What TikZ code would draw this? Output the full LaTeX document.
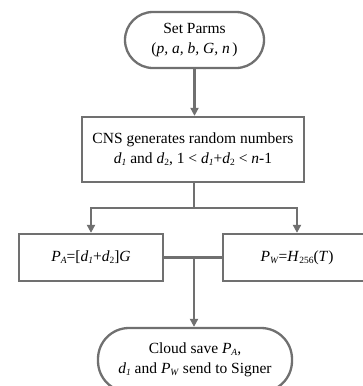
\documentclass[tikz,border=0pt]{standalone}
\usepackage{fontspec}
\setmainfont{Liberation Serif}
\usetikzlibrary{arrows.meta}
\definecolor{linegray}{RGB}{112,112,112}
\newcommand\lsub[1]{\raisebox{-0.3ex}{\fontsize{9.5}{10}\selectfont #1}}
\tikzset{
  flowline/.style={draw=linegray, line width=2.3pt},
  arr/.style={flowline, -{Triangle[length=8pt,width=8pt]}},
  procbox/.style={flowline, rectangle, inner sep=0pt, align=center,
    font=\fontsize{15.5}{20}\selectfont},
  termbox/.style={procbox, rounded corners=28pt},
}
\begin{document}
\begin{tikzpicture}[x=1pt,y=-1pt]
\useasboundingbox (0,0) rectangle (363,386);
\clip (0,0) rectangle (363,386);
\fill[white] (0,0) rectangle (363,386);

\node[termbox, minimum width=139pt, minimum height=56pt] (start) at (194.5,40)
  {Set Parms\\(\textit{p, a, b, G, n}\,)};
\node[procbox, minimum width=222pt, minimum height=65pt] (cns) at (193,149.5)
  {CNS generates random numbers\\
   \textit{d}\lsub{\textit{1}} and \textit{d}\lsub{2}, 1 < \textit{d}\lsub{\textit{1}}+\textit{d}\lsub{2} < \textit{n}-1};
\node[procbox, minimum width=144pt, minimum height=47pt] (pa) at (91,257.5)
  {\textit{P}\lsub{\textit{A}}=[\textit{d}\lsub{\textit{1}}+\textit{d}\lsub{2}]\textit{G}};
\node[procbox, minimum width=148pt, minimum height=47pt] (pw) at (297,257.5)
  {\textit{P}\lsub{\textit{W}}=\textit{H}\lsub{256}(\textit{T})};
\node[termbox, rounded corners=31pt, minimum width=194pt, minimum height=64pt] (finish) at (195,360)
  {Cloud save \textit{P}\lsub{\textit{A}},\\
   \textit{d}\lsub{\textit{1}} and \textit{P}\lsub{\textit{W}} send to Signer};

\coordinate (split) at (194,208);
\coordinate (join) at (194,258);

\draw[arr] (start.south) -- (start.south |- cns.north);
\draw[flowline] (cns.south -| split) -- (split);
\draw[arr] (split) -| (pa.north);
\draw[arr] (split) -| (pw.north);
\draw[flowline] (pa.east) -- (pw.west);
\draw[arr] (join) -- (join |- finish.north);
\end{tikzpicture}
\end{document}
